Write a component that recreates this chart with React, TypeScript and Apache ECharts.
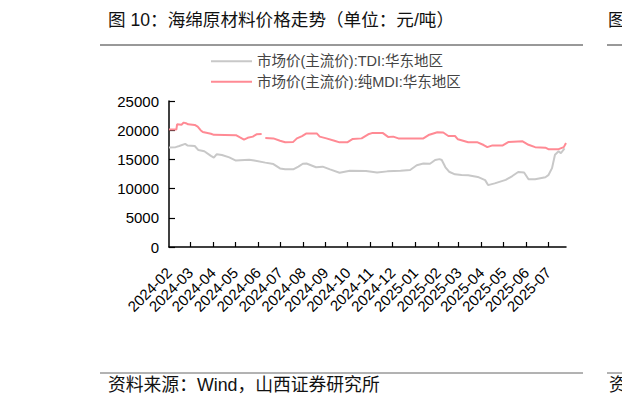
import { useEffect, useRef } from 'react';
import * as echarts from 'echarts';

const monthLabels = [
  '2024-02', '2024-03', '2024-04', '2024-05', '2024-06', '2024-07', '2024-08', '2024-09', '2024-10',
  '2024-11', '2024-12', '2025-01', '2025-02', '2025-03', '2025-04', '2025-05', '2025-06', '2025-07',
];

const tdiName = '市场价(主流价):TDI:华东地区';
const mdiName = '市场价(主流价):纯MDI:华东地区';

// TDI, 元/吨
const tdiPoints: [string, number][] = [
  ['2024-02-01', 17050], ['2024-02-10', 17100], ['2024-02-15', 17300], ['2024-02-23', 17650],
  ['2024-02-26', 17400], ['2024-03-07', 17300], ['2024-03-12', 16600], ['2024-03-20', 16400],
  ['2024-03-29', 15600], ['2024-04-02', 15300], ['2024-04-06', 15900], ['2024-04-13', 15750],
  ['2024-04-23', 15350], ['2024-05-02', 14800], ['2024-05-20', 14950], ['2024-05-27', 14800],
  ['2024-06-11', 14450], ['2024-06-22', 14200], ['2024-07-01', 13450], ['2024-07-08', 13300],
  ['2024-07-19', 13300], ['2024-07-26', 13750], ['2024-08-01', 14250], ['2024-08-06', 14300],
  ['2024-08-19', 13650], ['2024-08-28', 13760], ['2024-09-07', 13300], ['2024-09-20', 12720],
  ['2024-10-04', 13060], ['2024-10-26', 13000], ['2024-11-10', 12750], ['2024-11-24', 12950],
  ['2024-12-12', 13060], ['2024-12-25', 13180], ['2025-01-03', 14000], ['2025-01-12', 14300],
  ['2025-01-21', 14250], ['2025-01-28', 14900], ['2025-02-03', 15050], ['2025-02-06', 14900],
  ['2025-02-11', 13650], ['2025-02-16', 12890], ['2025-02-24', 12450], ['2025-03-05', 12330],
  ['2025-03-14', 12300], ['2025-03-27', 12000], ['2025-04-06', 11450], ['2025-04-10', 10600],
  ['2025-04-19', 10900], ['2025-05-04', 11500], ['2025-05-13', 12150], ['2025-05-21', 12850],
  ['2025-05-29', 12750], ['2025-06-04', 11600], ['2025-06-13', 11600], ['2025-06-27', 11950],
  ['2025-07-01', 12300], ['2025-07-06', 13500], ['2025-07-10', 15800], ['2025-07-15', 16400],
  ['2025-07-18', 16050], ['2025-07-23', 16900],
];

// 纯MDI, 元/吨 (null = no quote, line breaks)
const mdiPoints: [string, number | null][] = [
  ['2024-02-01', 20100], ['2024-02-11', 20100], ['2024-02-12', 21000], ['2024-02-18', 20950],
  ['2024-02-21', 21300], ['2024-02-24', 21200], ['2024-02-27', 21000], ['2024-03-07', 20900],
  ['2024-03-11', 20600], ['2024-03-15', 20000], ['2024-03-18', 19700], ['2024-03-29', 19400],
  ['2024-04-02', 19200], ['2024-05-02', 19150], ['2024-05-07', 18800], ['2024-05-13', 18400],
  ['2024-05-18', 18700], ['2024-05-25', 18900], ['2024-05-30', 19300], ['2024-06-06', 19350],
  ['2024-06-09', null], ['2024-06-11', 18650], ['2024-06-22', 18600], ['2024-07-01', 18200],
  ['2024-07-08', 17950], ['2024-07-19', 18000], ['2024-07-24', 18600], ['2024-07-31', 19000],
  ['2024-08-06', 19450], ['2024-08-20', 19450], ['2024-08-24', 18900], ['2024-09-02', 18600],
  ['2024-09-13', 18200], ['2024-09-20', 17920], ['2024-10-01', 17950], ['2024-10-08', 18500],
  ['2024-10-20', 18600], ['2024-10-29', 19300], ['2024-11-03', 19500], ['2024-11-18', 19500],
  ['2024-11-25', 18850], ['2024-12-02', 18900], ['2024-12-09', 18600], ['2025-01-12', 18600],
  ['2025-01-19', 19170], ['2025-01-31', 19650], ['2025-02-08', 19600], ['2025-02-15', 19000],
  ['2025-02-24', 19000], ['2025-02-28', 18440], ['2025-03-14', 17950], ['2025-03-26', 17950],
  ['2025-04-04', 17460], ['2025-04-09', 17100], ['2025-04-16', 17400], ['2025-04-30', 17400],
  ['2025-05-08', 18000], ['2025-05-27', 18100], ['2025-06-04', 17500], ['2025-06-13', 17100],
  ['2025-06-27', 17000], ['2025-07-01', 16750], ['2025-07-15', 16750], ['2025-07-22', 17100],
  ['2025-07-25', 17800],
];

const yTicks = [0, 5000, 10000, 15000, 20000, 25000];
const xEnd = '2025-07-25';

const FONT = 'Arial, "Liberation Sans", "Noto Sans CJK SC", sans-serif';

const toTs = (s: string) => {
  const [y, m, d] = s.split('-').map(Number);
  return Date.UTC(y, m - 1, d || 1);
};

const fmtMonth = (val: number) => {
  const d = new Date(val);
  return `${d.getUTCFullYear()}-${String(d.getUTCMonth() + 1).padStart(2, '0')}`;
};

export default function App() {
  const chartRef = useRef<HTMLDivElement>(null);

  useEffect(() => {
    if (!chartRef.current) return;
    const chart = echarts.init(chartRef.current, undefined, { renderer: 'svg' });
    const labelValues = monthLabels.map(toTs);

    chart.setOption({
      animation: false,
      backgroundColor: '#fff',
      textStyle: { fontFamily: FONT },
      graphic: [
        {
          type: 'text',
          left: 108,
          top: 11,
          style: { text: '图 10：海绵原材料价格走势（单位：元/吨）', font: `17.6px ${FONT}`, fill: '#111' },
        },
        { type: 'line', shape: { x1: 100, y1: 45, x2: 583, y2: 45 }, style: { stroke: '#333', lineWidth: 1 } },
        { type: 'line', shape: { x1: 607, y1: 45, x2: 640, y2: 45 }, style: { stroke: '#333', lineWidth: 1 } },
        { type: 'text', left: 608, top: 11, style: { text: '图', font: `17.6px ${FONT}`, fill: '#111' } },
        { type: 'line', shape: { x1: 100, y1: 373, x2: 583, y2: 373 }, style: { stroke: '#666', lineWidth: 1 } },
        { type: 'line', shape: { x1: 607, y1: 373, x2: 640, y2: 373 }, style: { stroke: '#666', lineWidth: 1 } },
        {
          type: 'text',
          left: 108,
          top: 376,
          style: { text: '资料来源：Wind，山西证券研究所', font: `17.8px ${FONT}`, fill: '#111' },
        },
        { type: 'text', left: 609, top: 376, style: { text: '资', font: `17.8px ${FONT}`, fill: '#111' } },
      ],
      legend: {
        orient: 'vertical',
        left: 211,
        top: 54,
        icon: 'rect',
        itemWidth: 41,
        itemHeight: 2,
        itemGap: 6,
        padding: 0,
        textStyle: { fontSize: 14.5, color: '#444', fontFamily: FONT, lineHeight: 14 },
        data: [tdiName, mdiName],
      },
      grid: { left: 169, right: 56, top: 101, bottom: 161 },
      xAxis: {
        type: 'value',
        min: toTs(monthLabels[0]),
        max: toTs(xEnd),
        axisLine: { lineStyle: { color: '#000', width: 1.5 } },
        axisTick: {
          inside: true,
          length: 5,
          lineStyle: { color: '#000', width: 1.2 },
          customValues: labelValues.slice(1),
        },
        axisLabel: {
          customValues: labelValues,
          rotate: 45,
          margin: 23,
          fontSize: 15,
          color: '#000',
          fontFamily: FONT,
          formatter: fmtMonth,
        },
        splitLine: { show: false },
      },
      yAxis: {
        type: 'value',
        min: yTicks[0],
        max: yTicks[yTicks.length - 1],
        interval: 5000,
        axisLine: { show: true, lineStyle: { color: '#000', width: 1.5 } },
        axisTick: { show: true, inside: true, length: 6, lineStyle: { color: '#000', width: 1.2 } },
        axisLabel: {
          fontSize: 15,
          color: '#000',
          margin: 10,
          fontFamily: FONT,
          formatter: (v: number) => String(v),
        },
        splitLine: { show: false },
      },
      series: [
        {
          name: tdiName,
          type: 'line',
          data: tdiPoints.map(([d, v]) => [toTs(d), v]),
          symbol: 'none',
          lineStyle: { color: '#c8c8c8', width: 2 },
          itemStyle: { color: '#c8c8c8' },
        },
        {
          name: mdiName,
          type: 'line',
          data: mdiPoints.map(([d, v]) => [toTs(d), v === null ? '-' : v]),
          symbol: 'none',
          connectNulls: false,
          lineStyle: { color: '#ff8a94', width: 2 },
          itemStyle: { color: '#ff8a94' },
        },
      ],
    });

    return () => chart.dispose();
  }, []);

  return (
    <div
      ref={chartRef}
      style={{ position: 'fixed', left: 0, top: 0, width: 622, height: 408, background: '#fff' }}
    />
  );
}
